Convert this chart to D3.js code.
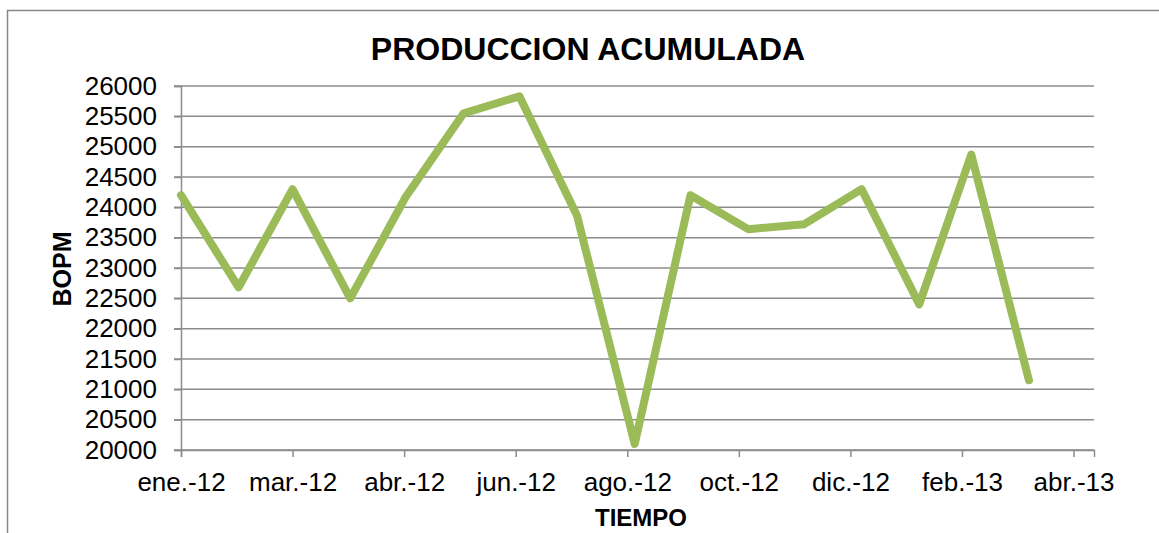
<!DOCTYPE html>
<html>
<head>
<meta charset="utf-8">
<script src="https://cdn.jsdelivr.net/npm/d3@7"></script>
<style>
  body { margin: 0; background: #fff; }
  svg { display: block; font-family: Arial, "Liberation Sans", sans-serif; }
</style>
</head>
<body>
<div id="chart"></div>
<script>
// monthly production, BOPM
const months = ['2012-01-01', '2012-02-01', '2012-03-01', '2012-04-01', '2012-05-01', '2012-06-01',
  '2012-07-01', '2012-08-01', '2012-09-01', '2012-10-01', '2012-11-01', '2012-12-01',
  '2013-01-01', '2013-02-01', '2013-03-01', '2013-04-01'];
const bopm = [24200, 22680, 24300, 22500, 24180, 25550, 25830, 23860, 20100, 24200,
  23640, 23720, 24300, 22400, 24870, 21150];

// date axis with a 60 day major unit
const tickDates = ['2012-01-01', '2012-03-01', '2012-04-30', '2012-06-29', '2012-08-28',
  '2012-10-27', '2012-12-26', '2013-02-24', '2013-04-25'];
const tickLabels = ['ene.-12', 'mar.-12', 'abr.-12', 'jun.-12', 'ago.-12', 'oct.-12', 'dic.-12', 'feb.-13', 'abr.-13'];
const yTicks = [20000, 20500, 21000, 21500, 22000, 22500, 23000, 23500, 24000, 24500, 25000, 25500, 26000];

const width = 1159;
const height = 533;
const parse = d3.utcParse('%Y-%m-%d');
const data = months.map((m, i) => ({ date: parse(m), value: bopm[i] }));

const x = d3.scaleUtc()
  .domain([parse('2012-01-01'), parse('2013-05-06')])
  .range([181, 1094]);

const y = d3.scaleLinear()
  .domain([20000, 26000])
  .range([450, 86]);

const svg = d3.select('#chart')
  .append('svg')
  .attr('width', width)
  .attr('height', height);

// outer chart border
svg.append('rect')
  .attr('x', 7.5)
  .attr('y', 10.5)
  .attr('width', 1200)
  .attr('height', 600)
  .attr('fill', 'none')
  .attr('stroke', '#888')
  .attr('stroke-width', 1.5);

svg.append('text')
  .attr('x', 588)
  .attr('y', 60)
  .attr('text-anchor', 'middle')
  .attr('font-size', 32)
  .attr('font-weight', 'bold')
  .text('PRODUCCION ACUMULADA');

// horizontal gridlines
svg.append('g')
  .selectAll('line')
  .data(yTicks)
  .enter()
  .append('line')
  .attr('x1', 174)
  .attr('x2', 1094)
  .attr('y1', d => y(d))
  .attr('y2', d => y(d))
  .attr('stroke', '#8c8c8c')
  .attr('stroke-width', 1.5);

// y axis
const yAxis = svg.append('g')
  .attr('transform', 'translate(181,0)')
  .call(d3.axisLeft(y).tickValues(yTicks).tickSize(7).tickPadding(17).tickFormat(d3.format('d')));
yAxis.select('.domain').attr('stroke', '#8c8c8c').attr('stroke-width', 1.5);
yAxis.selectAll('.tick line').attr('stroke', '#8c8c8c').attr('stroke-width', 1.5);
yAxis.selectAll('text').attr('font-size', 26).attr('fill', '#000')
  .attr('font-family', 'Arial, "Liberation Sans", sans-serif');

// x axis
const xAxis = svg.append('g')
  .attr('transform', 'translate(0,450)')
  .call(d3.axisBottom(x)
    .tickValues(tickDates.map(parse))
    .tickSize(7)
    .tickPadding(16)
    .tickFormat((d, i) => tickLabels[i]));
xAxis.select('.domain').attr('stroke', '#8c8c8c').attr('stroke-width', 1.5);
xAxis.selectAll('.tick line').attr('stroke', '#8c8c8c').attr('stroke-width', 1.5);
xAxis.selectAll('text').attr('font-size', 26).attr('fill', '#000')
  .attr('font-family', 'Arial, "Liberation Sans", sans-serif');

const line = d3.line()
  .x(d => x(d.date))
  .y(d => y(d.value));

svg.append('path')
  .datum(data)
  .attr('d', line)
  .attr('fill', 'none')
  .attr('stroke', '#9bbb59')
  .attr('stroke-width', 8)
  .attr('stroke-linejoin', 'round')
  .attr('stroke-linecap', 'round');

// axis titles
svg.append('text')
  .attr('x', 641)
  .attr('y', 526)
  .attr('text-anchor', 'middle')
  .attr('font-size', 24)
  .attr('font-weight', 'bold')
  .text('TIEMPO');

svg.append('text')
  .attr('transform', 'translate(71,269) rotate(-90)')
  .attr('text-anchor', 'middle')
  .attr('font-size', 25)
  .attr('font-weight', 'bold')
  .text('BOPM');
</script>
</body>
</html>
